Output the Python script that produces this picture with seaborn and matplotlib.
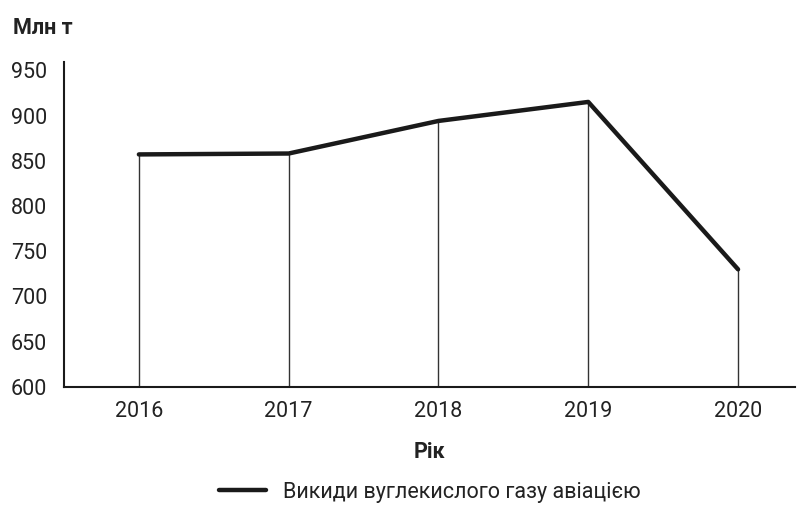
import matplotlib
matplotlib.use("Agg")
import matplotlib.pyplot as plt
import seaborn as sns
import pandas as pd

years = [2016, 2017, 2018, 2019, 2020]
emissions = [857, 858, 894, 915, 730]
yticks = [600, 650, 700, 750, 800, 850, 900, 950]
series_label = "Викиди вуглекислого газу авіацією"

sns.set_theme(style="white")
plt.rcParams['font.family'] = ['Roboto', 'DejaVu Sans']

df = pd.DataFrame({"year": years, "value": emissions})

fig = plt.figure(figsize=(8.03, 5.05), dpi=100)
ax = fig.add_axes([0.0797, 0.2337, 0.9103, 0.6433])

ax.vlines(df["year"], 600, df["value"], color="#333333", linewidth=1.0, zorder=1)
sns.lineplot(data=df, x="year", y="value", ax=ax, color="#1a1a1a", linewidth=3.2,
             label=series_label, zorder=3, legend=False)

ax.set_xlim(2015.5, 2020.38)
ax.set_ylim(600, 959)
ax.set_xticks(years)
ax.set_xticklabels([str(y) for y in years], fontsize=15.5, color="#222222")
ax.set_yticks(yticks)
ax.set_yticklabels([str(v) for v in yticks], fontsize=15.5, color="#222222")
ax.tick_params(axis="x", length=0, pad=10)
ax.tick_params(axis="y", length=0, pad=12)
for s in ["top", "right"]:
    ax.spines[s].set_visible(False)
for s in ["left", "bottom"]:
    ax.spines[s].set_color("#1a1a1a")
    ax.spines[s].set_linewidth(1.5)

ax.set_xlabel("Рік", fontsize=15.5, fontweight="bold", color="#222222", labelpad=14)
ax.set_ylabel("")
fig.text(0.016, 0.945, "Млн т", fontsize=15.5, fontweight="bold", color="#222222", va="center", ha="left")

handles = [plt.Line2D([], [], color="#1a1a1a", linewidth=3.2)]
fig.legend(handles, [series_label], loc="center", bbox_to_anchor=(0.535, 0.025),
           frameon=False, fontsize=15.5, handlelength=2.2, labelcolor="#222222")

fig.savefig("out.png", dpi=100)
